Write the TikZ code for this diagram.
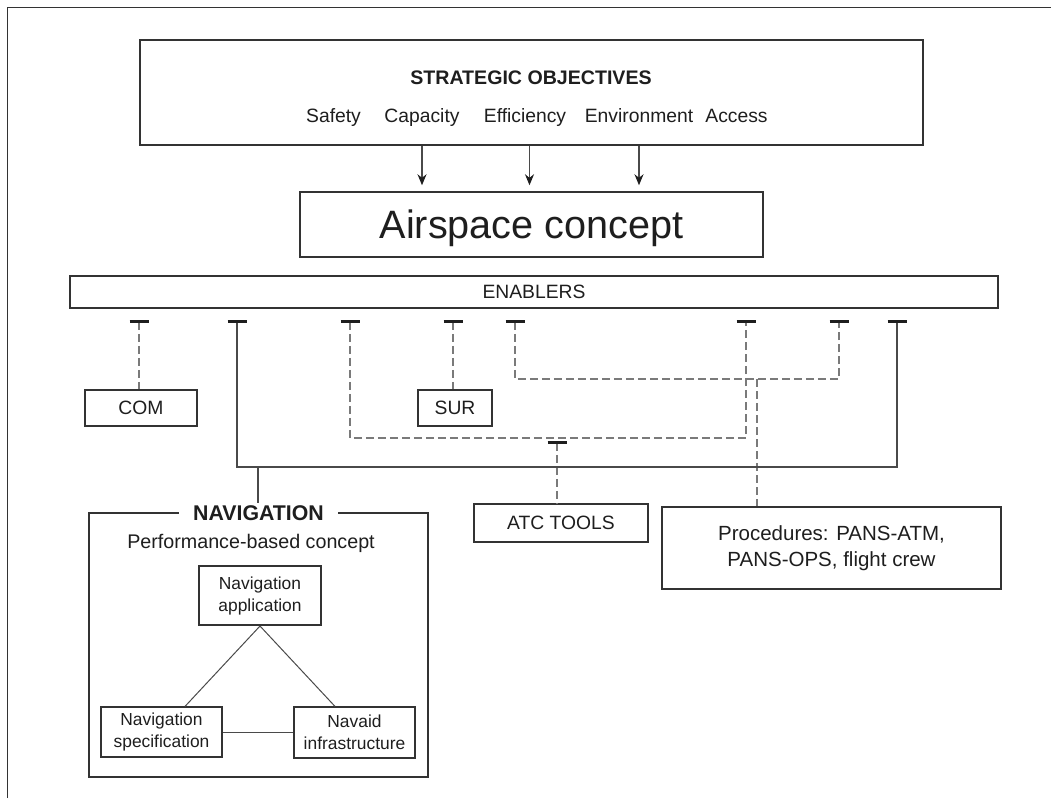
\documentclass[tikz,border=0pt]{standalone}
\usepackage{fontspec}
\setmainfont{Liberation Sans}
\usetikzlibrary{arrows.meta}
\definecolor{ink}{HTML}{1E1E1E}
\definecolor{frame}{HTML}{333333}
\definecolor{wire}{HTML}{4A4A4A}
\definecolor{dashwire}{HTML}{7A7A7A}
\newcommand\fsz[2]{\fontsize{#1pt}{#2pt}\selectfont}
\begin{document}
\begin{tikzpicture}[x=1pt,y=-1pt,
  box/.style={draw=frame, line width=1.2pt, fill=white, inner sep=0pt,
    text=ink, align=center, font=\fsz{19.3}{23}},
  txt/.style={inner sep=0pt, text=ink, font=\fsz{19.3}{23}},
  word/.style={txt, anchor=base},
  small/.style={box, font=\fsz{17.4}{22}},
  solidwire/.style={draw=wire, line width=1.1pt},
  dashwire/.style={draw=dashwire, line width=1.3pt, dash pattern=on 8pt off 4pt},
  teebar/.style={{Bar[width=19pt,line width=2.6pt,color=ink]}-},
  teeboth/.style={{Bar[width=19pt,line width=2.6pt,color=ink]}-{Bar[width=19pt,line width=2.6pt,color=ink]}},
  arr/.style={draw=wire, line width=1.1pt, -{Stealth[length=11pt,width=9pt,color=ink]}, shorten >=6pt},
  tri/.style={draw=wire, line width=1pt}]
\useasboundingbox (0,0) rectangle (1051,798);

% page frame (left and top rules)
\draw[frame, line width=1pt] (7,798) -- (7,7) -- (1051,7);

% strategic objectives
\node[box, line width=2pt, minimum width=783pt, minimum height=105pt] (obj) at (531.5,92.5) {};
\node[txt, font=\bfseries\fsz{19.6}{23}] (objtitle) at (531,78) {STRATEGIC OBJECTIVES};
\node[word] (safety) at (333.5,122.5) {Safety};
\node[word] (capacity) at (422,122.5) {Capacity};
\node[word] (efficiency) at (525,122.5) {Efficiency};
\node[word] (environment) at (639,122.5) {Environment};
\node[word] (access) at (736.5,122.5) {Access};

% airspace concept (text centred on its capitals)
\node[box, line width=1.5pt, minimum width=463pt, minimum height=65pt, font=\fsz{39.6}{44},
  text height=28.4pt, text depth=0pt] (air) at (531.5,224.5) {Airspace concept};

\coordinate (a1) at (422,0);
\coordinate (a2) at (529.5,0);
\coordinate (a3) at (639,0);
\draw[arr] (obj.south -| a1) -- (air.north -| a1);
\draw[arr] (obj.south -| a2) -- (air.north -| a2);
\draw[arr] (obj.south -| a3) -- (air.north -| a3);

% enablers
\node[box, line width=1.5pt, minimum width=928pt, minimum height=32pt] (enab) at (534,292) {ENABLERS};

% attachment points under the enablers bar
\coordinate (tcom) at (139,320);
\coordinate (tnav) at (237,320);
\coordinate (tatcA) at (350,320);
\coordinate (tsur) at (453,320);
\coordinate (tproA) at (515,320);
\coordinate (tatcB) at (746,320);
\coordinate (tproB) at (839,320);
\coordinate (tnavB) at (897,320);

% enabler boxes
\node[box, minimum width=112pt, minimum height=36pt] (com) at (141,408) {COM};
\node[box, minimum width=74pt, minimum height=36pt] (sur) at (455,408) {SUR};
\node[box, minimum width=174pt, minimum height=38pt] (atc) at (561,523) {ATC TOOLS};
\node[box, minimum width=339pt, minimum height=82pt, font=\fsz{20.5}{25.5}] (proc) at (831.5,548)
  {Procedures: PANS-ATM,\\PANS-OPS, flight crew};

% navigation group
\node[box, line width=1.6pt, minimum width=339pt, minimum height=264pt] (nav) at (258.5,645) {};
\node[fill=white, inner xsep=14.5pt, inner ysep=2pt, text=ink, font=\bfseries\fsz{21.3}{24}] (navtitle) at (258.5,513) {NAVIGATION};
\node[txt, font=\fsz{19.7}{23}] (perf) at (251,543) {Performance-based concept};
\node[small, line width=2pt, minimum width=122pt, minimum height=59pt] (app) at (260,595.5) {Navigation\\application};
\node[small, minimum width=121pt, minimum height=50pt] (spec) at (161.5,732) {Navigation\\specification};
\node[small, minimum width=121pt, minimum height=51pt] (navaid) at (354.5,732.5) {Navaid\\infrastructure};

\coordinate (specin) at (185,0);
\coordinate (navaidin) at (335,0);
\draw[tri] (app.south) -- (spec.north -| specin);
\draw[tri] (app.south) -- (navaid.north -| navaidin);
\draw[tri] (spec.east) -- (navaid.west |- spec.east);

% dashed links
\draw[dashwire, teebar] (tcom) -- (com.north -| tcom);
\draw[dashwire, teebar] (tsur) -- (sur.north -| tsur);
\draw[dashwire, teeboth] (tatcA) -- (350,438) -- (746,438) -- (tatcB);
\draw[dashwire, teeboth] (tproA) -- (515,379) -- (839,379) -- (tproB);
\coordinate (atcj) at (557,441);
\draw[dashwire, teebar] (atcj) -- (atc.north -| atcj);
\coordinate (procj) at (757,379);
\draw[dashwire] (procj) -- (proc.north -| procj);

% solid link to navigation
\draw[solidwire, teeboth] (tnav) -- (237,467) -- (897,467) -- (tnavB);
\coordinate (navj) at (258,467);
\draw[solidwire] (navj) -- (navtitle.north -| navj);
\end{tikzpicture}
\end{document}
